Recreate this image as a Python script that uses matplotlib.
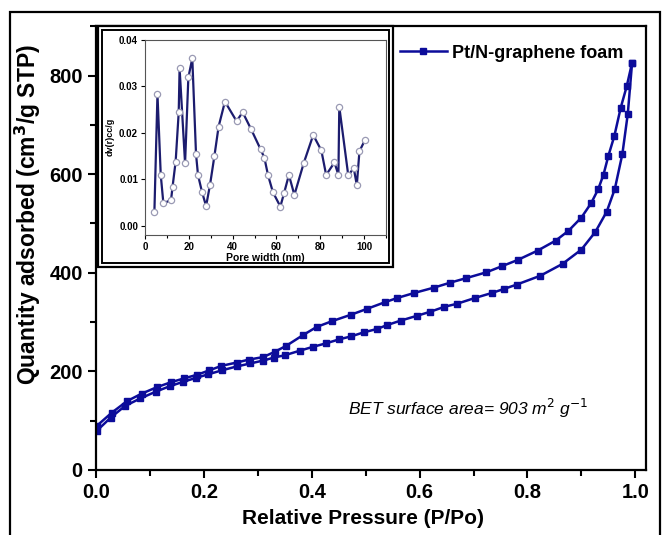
import matplotlib
matplotlib.use("Agg")
from matplotlib import pyplot as plt
from matplotlib.patches import Rectangle
from matplotlib.ticker import MultipleLocator, FormatStrFormatter

plt.rcParams['font.family'] = ['Liberation Sans', 'DejaVu Sans']

# adsorption branch (lower at high P/Po)
ads_p = [0.002, 0.027, 0.054, 0.082, 0.111, 0.137, 0.162, 0.186, 0.208, 0.233,
         0.261, 0.286, 0.310, 0.330, 0.351, 0.378, 0.403, 0.427, 0.451, 0.473,
         0.496, 0.521, 0.540, 0.565, 0.596, 0.620, 0.646, 0.669, 0.703, 0.734,
         0.756, 0.780, 0.824, 0.865, 0.900, 0.926, 0.947, 0.962, 0.976, 0.986, 0.994]
ads_q = [80, 106, 130, 145, 159, 170, 179, 187, 194, 202,
         210, 216, 222, 228, 233, 242, 250, 257, 265, 271,
         279, 286, 294, 303, 313, 321, 331, 337, 349, 359,
         367, 376, 394, 418, 447, 483, 524, 570, 641, 722, 826]

# desorption branch (upper), from high to low P/Po
des_p = [0.994, 0.984, 0.973, 0.961, 0.950, 0.941, 0.931, 0.918, 0.900, 0.876,
         0.852, 0.819, 0.782, 0.752, 0.724, 0.686, 0.657, 0.627, 0.590, 0.559,
         0.535, 0.503, 0.473, 0.438, 0.409, 0.383, 0.353, 0.332, 0.310, 0.284,
         0.261, 0.232, 0.210, 0.187, 0.164, 0.139, 0.113, 0.085, 0.058, 0.029, 0.002]
des_q = [826, 778, 735, 677, 637, 599, 569, 541, 512, 485,
         465, 445, 426, 413, 401, 389, 380, 370, 359, 349,
         340, 327, 315, 302, 290, 273, 252, 240, 229, 224,
         218, 211, 202, 193, 186, 178, 168, 155, 140, 116, 90]

# pore size distribution (inset)
pore_w = [4.3, 5.7, 7.2, 8.4, 11.9, 12.6, 14.0, 15.4, 15.8, 18.3,
          19.8, 21.6, 23.3, 24.2, 26.0, 27.9, 29.7, 31.7, 33.6, 36.5,
          41.8, 44.6, 48.4, 52.8, 54.5, 56.2, 58.4, 61.8, 63.5, 65.7,
          68.2, 72.5, 76.8, 80.5, 82.7, 86.5, 88.3, 88.7, 92.8, 95.3,
          96.7, 97.9, 100.5]
pore_dv = [0.0030, 0.0283, 0.0109, 0.0048, 0.0055, 0.0084, 0.0138, 0.0244, 0.0339, 0.0134,
           0.0319, 0.0360, 0.0154, 0.0109, 0.0073, 0.0042, 0.0088, 0.0150, 0.0213, 0.0267,
           0.0225, 0.0244, 0.0208, 0.0164, 0.0146, 0.0108, 0.0072, 0.0041, 0.0070, 0.0109,
           0.0066, 0.0135, 0.0195, 0.0162, 0.0109, 0.0136, 0.0109, 0.0256, 0.0108, 0.0124,
           0.0087, 0.0160, 0.0185]

blue = '#0c0c9a'

fig = plt.figure(figsize=(6.62, 5.35), dpi=100)

# outer frame around whole figure
fig.patches.append(Rectangle((0.015, -0.02), 0.982, 0.9976, transform=fig.transFigure,
                             fill=False, edgecolor='black', linewidth=1.6, zorder=0))

ax = fig.add_axes([0.145, 0.1215, 0.831, 0.8295])
ax.plot(ads_p, ads_q, color=blue, lw=1.8, marker='s', ms=4.8,
        label='Pt/N-graphene foam')
ax.plot(des_p, des_q, color=blue, lw=1.8, marker='s', ms=4.8)
ax.set_xlim(0, 1.02)
ax.set_ylim(0, 900)
ax.xaxis.set_major_locator(MultipleLocator(0.2))
ax.xaxis.set_minor_locator(MultipleLocator(0.1))
ax.yaxis.set_major_locator(MultipleLocator(200))
ax.yaxis.set_minor_locator(MultipleLocator(100))
ax.xaxis.set_major_formatter(FormatStrFormatter('%.1f'))
ax.tick_params(which='both', direction='out', width=1.5, labelsize=14.5)
ax.tick_params(which='major', length=6)
ax.tick_params(which='minor', length=4.5)
for lab in ax.get_xticklabels() + ax.get_yticklabels():
    lab.set_fontweight('bold')
for sp in ax.spines.values():
    sp.set_linewidth(1.6)
ax.set_xlabel('Relative Pressure (P/Po)', fontsize=15, fontweight='bold')
ax.xaxis.set_label_coords(0.486, -0.088)
ax.set_ylabel('Quantity adsorbed (cm$^\\mathbf{3}$/g STP)', fontsize=16.5,
              fontweight='bold')
ax.yaxis.set_label_coords(-0.097, 0.575)
ax.text(0.467, 124, 'BET surface area= 903 m$^2$ g$^{-1}$', fontsize=12.5,
        style='italic', va='center', ha='left')
ax.legend(loc='upper right', bbox_to_anchor=(0.972, 0.975), frameon=False,
          handlelength=2.6, handletextpad=0.3, borderaxespad=0,
          prop={'weight': 'bold', 'size': 13})

# double frame round the inset
fig.patches.append(Rectangle((98 / 662, 1 - 267 / 535), 295 / 662, 241 / 535,
                             transform=fig.transFigure, facecolor='white',
                             edgecolor='black', linewidth=1.6, zorder=1))
fig.patches.append(Rectangle((102 / 662, 1 - 263 / 535), 287 / 662, 233 / 535,
                             transform=fig.transFigure, fill=False,
                             edgecolor='black', linewidth=1.4, zorder=1))

ins = fig.add_axes([0.219, 0.561, 0.364, 0.3645], zorder=2)
ins.plot(pore_w, pore_dv, color='#1c1c6e', lw=1.6, marker='o', ms=4.5,
         markerfacecolor='white', markeredgecolor='#9a9ab4', markeredgewidth=0.9)
ins.set_xlim(0, 110)
ins.set_ylim(-0.002, 0.04)
ins.xaxis.set_major_locator(MultipleLocator(20))
ins.xaxis.set_minor_locator(MultipleLocator(10))
ins.yaxis.set_major_locator(MultipleLocator(0.01))
ins.yaxis.set_major_formatter(FormatStrFormatter('%.2f'))
ins.tick_params(which='both', direction='out', width=0.8, labelsize=7, pad=2)
ins.tick_params(which='major', length=3)
ins.tick_params(which='minor', length=2)
for lab in ins.get_xticklabels() + ins.get_yticklabels():
    lab.set_fontweight('bold')
for sp in ins.spines.values():
    sp.set_linewidth(0.8)
    sp.set_edgecolor('#555555')
ins.set_xlabel('Pore width (nm)', fontsize=7.5, fontweight='bold', labelpad=1)
ins.set_ylabel('dv(r)cc/g', fontsize=6.5, fontweight='bold', labelpad=3)

fig.savefig('out.png', dpi=100)
